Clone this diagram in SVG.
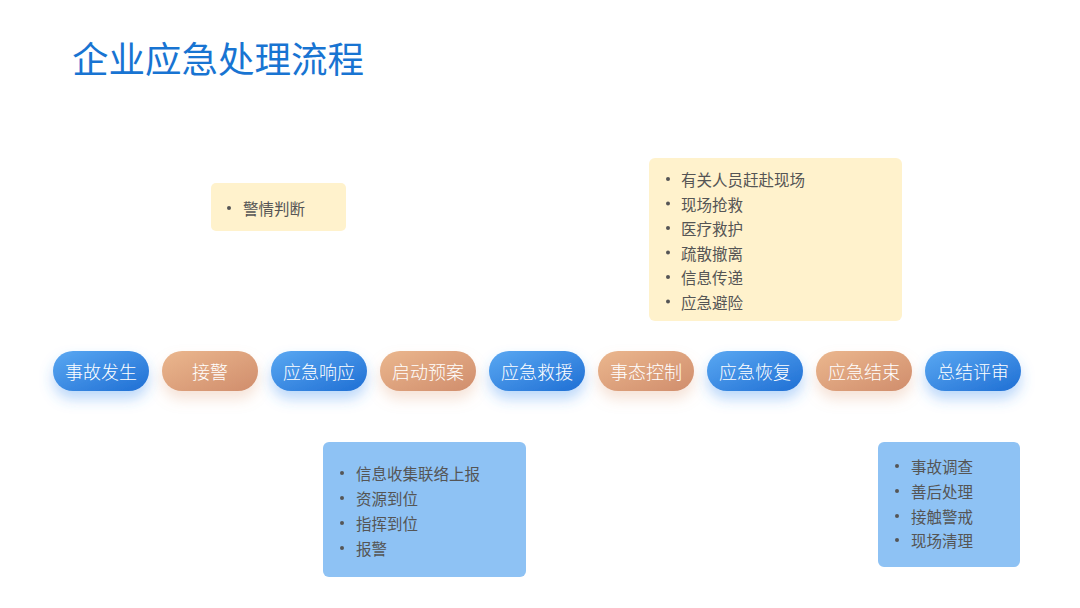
<svg xmlns="http://www.w3.org/2000/svg" width="1080" height="608" viewBox="0 0 1080 608">
<defs>
<linearGradient id="gb" x1="0" y1="0" x2="1" y2="1">
<stop offset="0" stop-color="#5aa8f2"/>
<stop offset="1" stop-color="#1f6fd4"/>
</linearGradient>
<linearGradient id="go" x1="0" y1="0" x2="1" y2="1">
<stop offset="0" stop-color="#ebb78e"/>
<stop offset="1" stop-color="#d08d6c"/>
</linearGradient>
<filter id="sb" x="-40%" y="-60%" width="180%" height="240%">
<feDropShadow dx="0" dy="8" stdDeviation="7" flood-color="#3d8ef0" flood-opacity="0.35"/>
</filter>
<filter id="so" x="-40%" y="-60%" width="180%" height="240%">
<feDropShadow dx="0" dy="8" stdDeviation="7" flood-color="#e0a07a" flood-opacity="0.3"/>
</filter>
</defs>
<style>
text{font-family:"Noto Sans CJK SC","Noto Sans",sans-serif}
.title{font-size:36.5px;fill:#1874d2}
.pl{font-size:18px;font-weight:300;fill:#ffffff;text-anchor:middle;dominant-baseline:central}
.it{font-size:15.5px;fill:#555555;dominant-baseline:central}
.bl{fill:#555555}
.yb{fill:#fff2cc}
.bb{fill:#8ec2f4}
</style>
<rect width="1080" height="608" fill="#ffffff"/>
<text class="title" x="72" y="73">企业应急处理流程</text>

<g id="pills">
<g id="n1"><rect x="53" y="351" width="96" height="40" rx="20" fill="url(#gb)" filter="url(#sb)"/><text class="pl" x="101" y="371">事故发生</text></g>
<g id="n2"><rect x="162" y="351" width="96" height="40" rx="20" fill="url(#go)" filter="url(#so)"/><text class="pl" x="210" y="371">接警</text></g>
<g id="n3"><rect x="271" y="351" width="96" height="40" rx="20" fill="url(#gb)" filter="url(#sb)"/><text class="pl" x="319" y="371">应急响应</text></g>
<g id="n4"><rect x="380" y="351" width="96" height="40" rx="20" fill="url(#go)" filter="url(#so)"/><text class="pl" x="428" y="371">启动预案</text></g>
<g id="n5"><rect x="489" y="351" width="96" height="40" rx="20" fill="url(#gb)" filter="url(#sb)"/><text class="pl" x="537" y="371">应急救援</text></g>
<g id="n6"><rect x="598" y="351" width="96" height="40" rx="20" fill="url(#go)" filter="url(#so)"/><text class="pl" x="646" y="371">事态控制</text></g>
<g id="n7"><rect x="707" y="351" width="96" height="40" rx="20" fill="url(#gb)" filter="url(#sb)"/><text class="pl" x="755" y="371">应急恢复</text></g>
<g id="n8"><rect x="816" y="351" width="96" height="40" rx="20" fill="url(#go)" filter="url(#so)"/><text class="pl" x="864" y="371">应急结束</text></g>
<g id="n9"><rect x="925" y="351" width="96" height="40" rx="20" fill="url(#gb)" filter="url(#sb)"/><text class="pl" x="973" y="371">总结评审</text></g>
</g>

<g id="box1">
<rect class="yb" x="211" y="183" width="135" height="48" rx="5"/>
<circle class="bl" cx="229" cy="208" r="2"/><text class="it" x="243" y="208">警情判断</text>
</g>

<g id="box2">
<rect class="yb" x="649" y="158" width="253" height="163" rx="6"/>
<circle class="bl" cx="668" cy="179" r="2"/><text class="it" x="681" y="179">有关人员赶赴现场</text>
<circle class="bl" cx="668" cy="203.5" r="2"/><text class="it" x="681" y="203.5">现场抢救</text>
<circle class="bl" cx="668" cy="228" r="2"/><text class="it" x="681" y="228">医疗救护</text>
<circle class="bl" cx="668" cy="252.5" r="2"/><text class="it" x="681" y="252.5">疏散撤离</text>
<circle class="bl" cx="668" cy="277" r="2"/><text class="it" x="681" y="277">信息传递</text>
<circle class="bl" cx="668" cy="301.5" r="2"/><text class="it" x="681" y="301.5">应急避险</text>
</g>

<g id="box3">
<rect class="bb" x="323" y="442" width="203" height="135" rx="6"/>
<circle class="bl" cx="342" cy="473" r="2"/><text class="it" x="356" y="473">信息收集联络上报</text>
<circle class="bl" cx="342" cy="498" r="2"/><text class="it" x="356" y="498">资源到位</text>
<circle class="bl" cx="342" cy="523" r="2"/><text class="it" x="356" y="523">指挥到位</text>
<circle class="bl" cx="342" cy="548" r="2"/><text class="it" x="356" y="548">报警</text>
</g>

<g id="box4">
<rect class="bb" x="878" y="442" width="142" height="125" rx="6"/>
<circle class="bl" cx="897" cy="466" r="2"/><text class="it" x="911" y="466">事故调查</text>
<circle class="bl" cx="897" cy="491" r="2"/><text class="it" x="911" y="491">善后处理</text>
<circle class="bl" cx="897" cy="516" r="2"/><text class="it" x="911" y="516">接触警戒</text>
<circle class="bl" cx="897" cy="540" r="2"/><text class="it" x="911" y="540">现场清理</text>
</g>
<g id="connectors"></g>
</svg>
